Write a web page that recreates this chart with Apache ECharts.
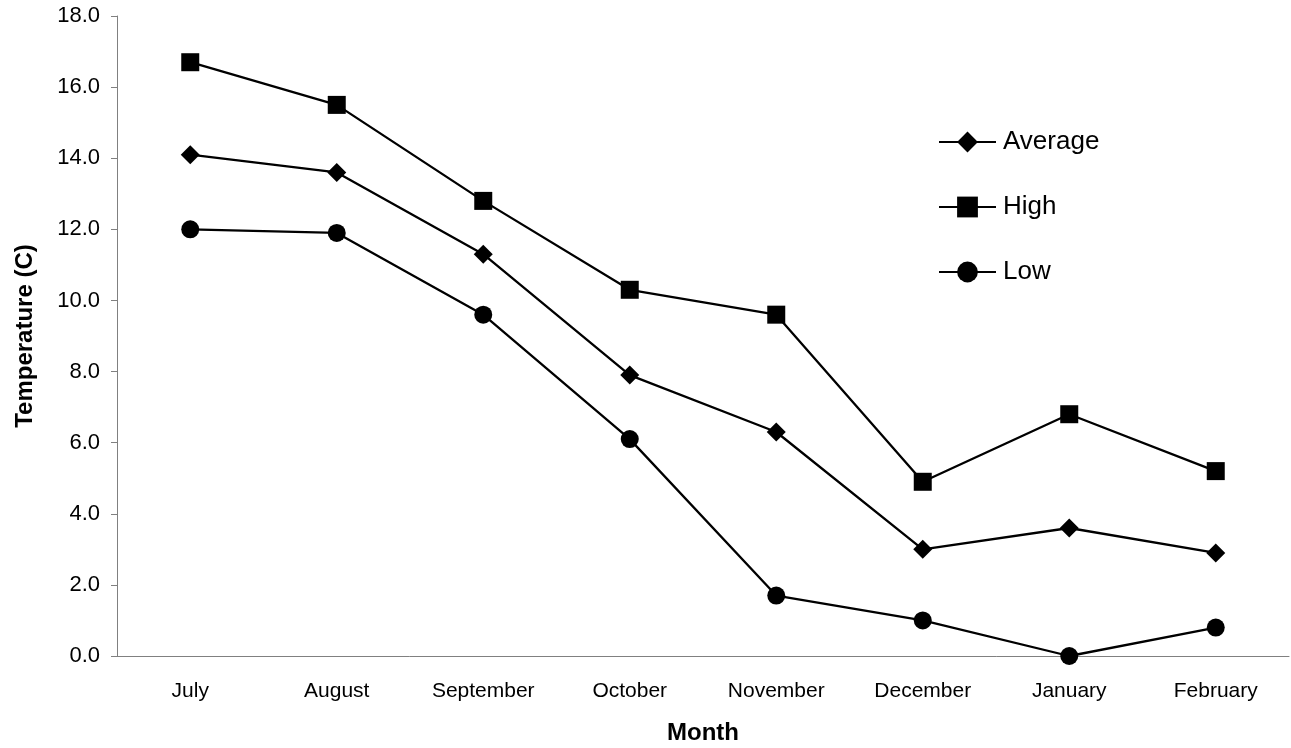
<!DOCTYPE html>
<html>
<head>
<meta charset="utf-8">
<script src="https://cdn.jsdelivr.net/npm/echarts@6/dist/echarts.min.js"></script>
<style>
  html, body { margin: 0; padding: 0; background: #fff; }
  #chart { width: 1291px; height: 748px; }
</style>
</head>
<body>
<div id="chart"></div>
<script>
// monthly temperatures (C)
const months = ['July', 'August', 'September', 'October', 'November', 'December', 'January', 'February']
const avgTemp = [14.1, 13.6, 11.3, 7.9, 6.3, 3.0, 3.6, 2.9]
const highTemp = [16.7, 15.5, 12.8, 10.3, 9.6, 4.9, 6.8, 5.2]
const lowTemp = [12.0, 11.9, 9.6, 6.1, 1.7, 1.0, 0.0, 0.8]

const font = 'Liberation Sans, Arial, sans-serif'

const lineSeries = (name, data, symbol, size) => ({
  name,
  type: 'line',
  data,
  symbol,
  symbolSize: size,
  showAllSymbol: true,
  animation: false,
  itemStyle: { color: '#000' },
  lineStyle: { color: '#000', width: 2.3 }
})

const chart = echarts.init(document.getElementById('chart'))
chart.setOption({
  backgroundColor: '#fff',
  grid: { left: 117, right: 2, top: 16, bottom: 92, containLabel: false, outerBoundsMode: 'none' },
  legend: {
    orient: 'vertical',
    left: 933,
    top: 124,
    itemWidth: 57,
    itemHeight: 26,
    itemGap: 39,
    textStyle: { fontFamily: font, fontSize: 26, color: '#000', padding: [0, 0, 0, 2] },
    data: ['Average', 'High', 'Low']
  },
  xAxis: {
    type: 'category',
    data: months,
    boundaryGap: true,
    name: 'Month',
    nameLocation: 'middle',
    nameGap: 65,
    nameTextStyle: { fontFamily: font, fontSize: 24, fontWeight: 'bold', color: '#000' },
    axisLine: { lineStyle: { color: '#808080', width: 1 } },
    axisTick: { length: 7, lineStyle: { color: '#808080' } },
    axisLabel: { fontFamily: font, fontSize: 21, color: '#000', margin: 25 },
    splitLine: { show: false }
  },
  yAxis: {
    type: 'value',
    min: 0,
    max: 18,
    interval: 2,
    name: 'Temperature (C)',
    nameLocation: 'middle',
    nameGap: 80,
    nameTextStyle: { fontFamily: font, fontSize: 24, fontWeight: 'bold', color: '#000' },
    axisLine: { show: true, lineStyle: { color: '#808080', width: 1 } },
    axisTick: { show: true, length: 6, lineStyle: { color: '#808080' } },
    axisLabel: {
      fontFamily: font, fontSize: 22, color: '#000', margin: 17,
      formatter: v => v.toFixed(1)
    },
    splitLine: { show: false }
  },
  series: [
    lineSeries('Average', avgTemp, 'diamond', 19),
    lineSeries('High', highTemp, 'rect', 18),
    lineSeries('Low', lowTemp, 'circle', 18)
  ]
})
</script>
</body>
</html>
